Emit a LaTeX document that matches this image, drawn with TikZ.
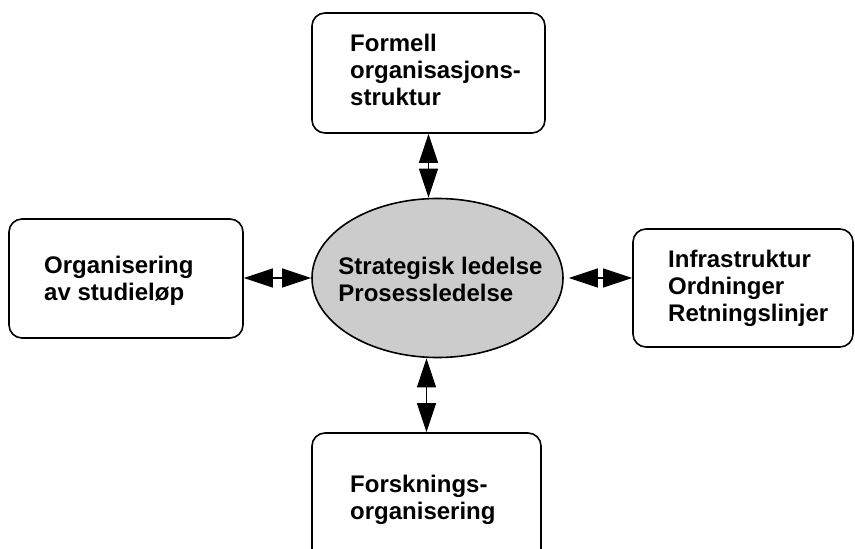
\documentclass[tikz,border=0pt]{standalone}
\usepackage{fontspec}
\setmainfont{Liberation Sans}
\usetikzlibrary{arrows.meta,shapes.geometric}

\begin{document}
\begin{tikzpicture}[x=1pt,y=-1pt,
  box/.style={draw, line width=1.6pt, rounded corners=13pt, inner sep=0pt},
  hub/.style={ellipse, draw, line width=1.6pt, fill=gray!40, inner sep=0pt,
    minimum width=251pt, minimum height=159pt},
  txt/.style={inner sep=0pt, align=left,
    font=\bfseries\fontsize{24}{27}\selectfont},
  lbl/.style={txt, anchor=north west},
  link/.style={line width=1.2pt,
    {Triangle[length=29pt,width=19pt]}-{Triangle[length=29pt,width=19pt]}},
]
\useasboundingbox (0,0) rectangle (855,549);

% central ellipse and its text
\node[hub] (e) at (437.5,278) {};
\node[txt] (et) at ([xshift=3pt,yshift=-1pt]e.center) {Strategisk ledelse\\Prosessledelse};

% surrounding boxes
\node[box, minimum width=233pt, minimum height=120pt] (top) at (428.5,73) {};
\node[box, minimum width=234pt, minimum height=119pt] (lft) at (126,278.5) {};
\node[box, minimum width=220pt, minimum height=118pt] (rgt) at (743,288) {};
\node[box, minimum width=229pt, minimum height=134pt] (bot) at (426.5,500) {};

% box texts
\node[lbl] (topt) at (350,34) {Formell\\organisasjons-\\struktur};
\node[lbl] (lftt) at (44,256) {Organisering\\av studieløp};
\node[lbl] (rgtt) at (668,250) {Infrastruktur\\Ordninger\\Retningslinjer};
\node[lbl] (bott) at (350,475) {Forsknings-\\organisering};

% double-headed connectors
\draw[link] (top.south) -- (top.south |- e.north);
\draw[link] (bot.north) -- (bot.north |- e.south);
\draw[link] (lft.east |- e.west) -- (e.west);
\draw[link, shorten <=5pt] (e.east) -- (e.east -| rgt.west);
\end{tikzpicture}
\end{document}
